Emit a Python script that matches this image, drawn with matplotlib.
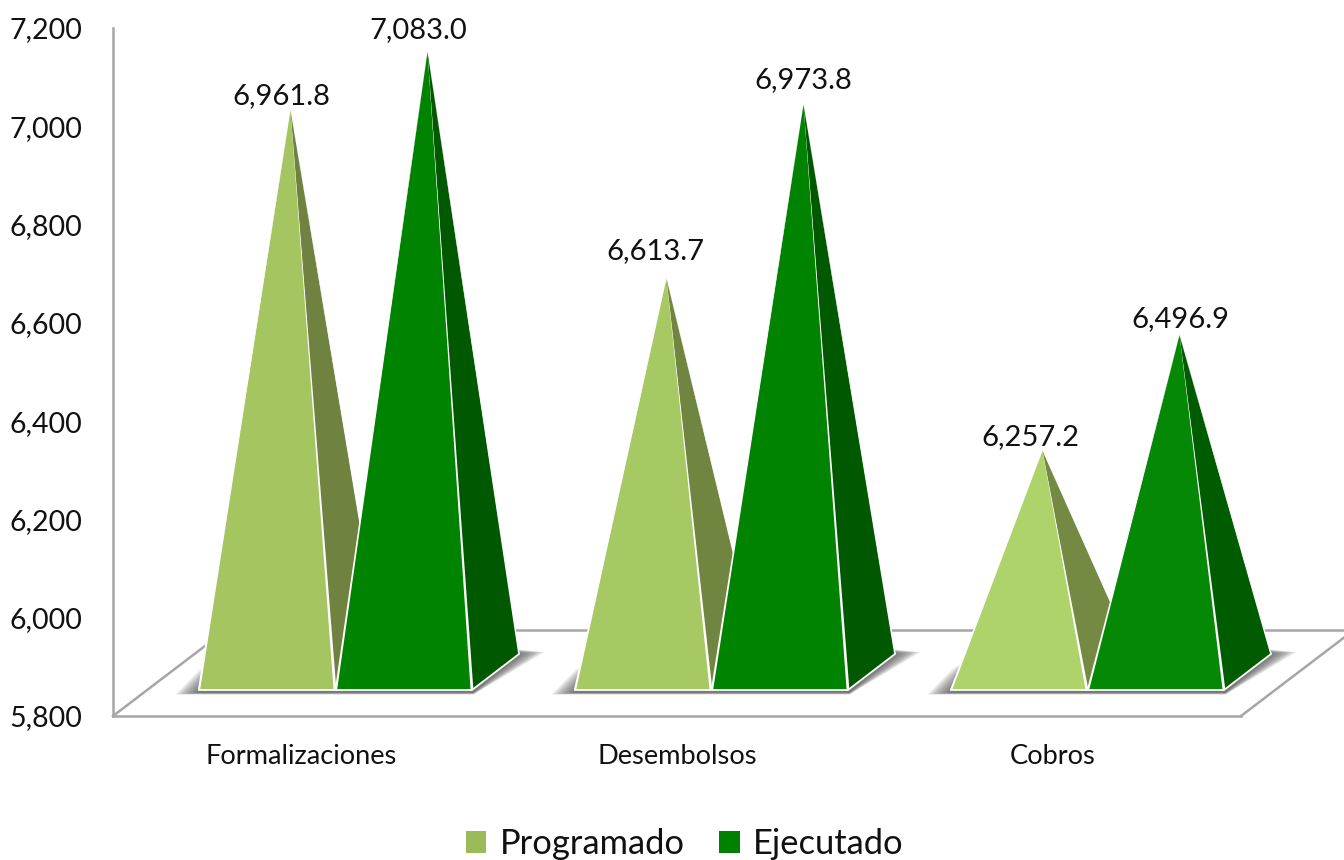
import matplotlib
matplotlib.use("Agg")
import matplotlib.pyplot as plt
from matplotlib.patches import Polygon, Patch
from matplotlib.lines import Line2D

categories = ["Formalizaciones", "Desembolsos", "Cobros"]
programado = [6961.8, 6613.7, 6257.2]
ejecutado = [7083.0, 6973.8, 6496.9]
y_ticks = [5800, 6000, 6200, 6400, 6600, 6800, 7000, 7200]

prog_front = ["#A4C560", "#A7C963", "#AFD36B"]
prog_side = ["#6F8240", "#70853F", "#748A42"]
ejec_front = ["#008300", "#008300", "#058805"]
ejec_side = ["#005800", "#005800", "#005C00"]
prog_legend = "#9BBB59"
ejec_legend = "#008000"
line_color = "#A6A6A6"

# label offsets relative to each apex, in pixels
prog_label_dx = [-9, -11, -12]
prog_label_dy = [14, 28, 14]
ejec_label_dx = [-9, 0, 1]
ejec_label_dy = [22, 24, 16]

W, H = 1344, 860
plt.rcParams["font.family"] = ["Lato", "DejaVu Sans"]
fig = plt.figure(figsize=(W / 100, H / 100), dpi=100, facecolor="white")

L, R, T, B = 113, 1241, 28, 716
rect = [L / W, 1 - B / H, (R - L) / W, (B - T) / H]

# wall / floor axes
ax = fig.add_axes(rect, facecolor="none")
ax.set_xlim(-0.5, 2.5)
ax.set_ylim(y_ticks[0], y_ticks[-1])
ax.set_xticks(range(len(categories)), categories)
ax.set_yticks(y_ticks, [f"{v:,}" for v in y_ticks])
ax.tick_params(axis="y", length=0, pad=22, labelsize=20.5, labelcolor="#111111")
ax.tick_params(axis="x", length=0, pad=20, labelsize=19.6, labelcolor="#111111")
for s in ("top", "right"):
    ax.spines[s].set_visible(False)
for s in ("left", "bottom"):
    ax.spines[s].set_color(line_color)
    ax.spines[s].set_linewidth(1.8)
floor_dx = 113 / (R - L)
floor_dy = 86 / (B - T)
for xs, ys in (([0, floor_dx], [0, floor_dy]),
               ([1, 1 + floor_dx], [0, floor_dy]),
               ([floor_dx, 1 + floor_dx], [floor_dy, floor_dy])):
    ax.add_line(Line2D(xs, ys, transform=ax.transAxes, color=line_color,
                       lw=1.8, clip_on=False, zorder=1))

# pyramid axes: same x scale, y scale of the plane through the pyramid axis
px_per_unit = 0.4835
apex_base_px = 672
ax2 = fig.add_axes(rect, facecolor="none")
ax2.set_xlim(-0.5, 2.5)
ax2.set_ylim(y_ticks[0] - (B - apex_base_px) / px_per_unit,
             y_ticks[0] + (apex_base_px - T) / px_per_unit)
ax2.axis("off")

px_x = 3 / (R - L)            # data units per pixel, x
px_y = 1 / px_per_unit        # data units per pixel, y
bar_w = 136 * px_x
gap = 0.5 * px_x
offset = 34.5 * px_x
depth_x = 47 * px_x
depth_y = 36 * px_y
base = y_ticks[0]
front_y = base - depth_y / 2
back_y = base + depth_y / 2


def shadow(i):
    x0 = i + offset - bar_w
    x1 = i + offset + bar_w
    n = 12
    for k in range(n):
        f = k / (n - 1)
        spread = 1 - f
        poly = [(x0 - (24 * spread) * px_x, front_y - (2 * spread + 2.5) * px_y),
                (x1 + 2 * px_x, front_y - (2 * spread + 2.5) * px_y),
                (x1 + depth_x + (26 * spread) * px_x, back_y + (2 * spread) * px_y),
                (x1 + depth_x - 20 * px_x, back_y + 6 * px_y),
                (x1, back_y),
                (x0 + 15 * px_x, back_y - 6 * px_y),
                (x0 + (2 * f) * px_x, front_y + (20 * spread) * px_y)]
        ax2.add_patch(Polygon(poly, closed=True, fc="#505050", ec="none",
                              alpha=0.11, zorder=2, clip_on=False))


def pyramid(left, value, front, side, z):
    right = left + bar_w
    apex = (left + (bar_w + depth_x) / 2, value)
    ax2.add_patch(Polygon([apex, (right, front_y), (right + depth_x, back_y)],
                          closed=True, fc=side, ec="none", zorder=z, clip_on=False))
    ax2.add_patch(Polygon([apex, (left, front_y), (right, front_y)],
                          closed=True, fc=front, ec="none", zorder=z + 0.1, clip_on=False))

    def rim(x_end, y_end, width_px):
        # white rim, tapering to nothing at the apex
        half = width_px / 2 * px_x
        ax2.add_patch(Polygon([apex, (x_end - half, y_end), (x_end + half, y_end)],
                              closed=True, fc="white", ec="none",
                              zorder=z + 0.2, clip_on=False))

    rim(left, front_y, 2.2)
    rim(right, front_y, 2.8)
    rim(right + depth_x, back_y, 1.6)
    ax2.add_line(Line2D([left, right, right + depth_x], [front_y, front_y, back_y],
                        color="white", lw=1.3, zorder=z + 0.2, clip_on=False))
    return apex


def label(apex, value, dx, dy):
    ax2.annotate(f"{value:,.1f}", xy=apex, xytext=(dx * 0.72, dy * 0.72),
                 textcoords="offset points", ha="center", va="center",
                 fontsize=21, color="#111111", zorder=10, annotation_clip=False)


for i in range(len(categories)):
    shadow(i)
    a = pyramid(i + offset - gap - bar_w, programado[i], prog_front[i], prog_side[i], 3)
    label(a, programado[i], prog_label_dx[i], prog_label_dy[i])
    b = pyramid(i + offset + gap, ejecutado[i], ejec_front[i], ejec_side[i], 4)
    label(b, ejecutado[i], ejec_label_dx[i], ejec_label_dy[i])

fig.legend(handles=[Patch(fc=prog_legend, label="Programado"),
                    Patch(fc=ejec_legend, label="Ejecutado")],
           loc="center", bbox_to_anchor=(684.5 / W, 1 - 844 / H), ncol=2,
           frameon=False, fontsize=24.8, handlelength=0.6, handleheight=0.6,
           handletextpad=0.38, columnspacing=1.0, labelcolor="#111111")

fig.savefig("out.png", dpi=100, facecolor="white")
